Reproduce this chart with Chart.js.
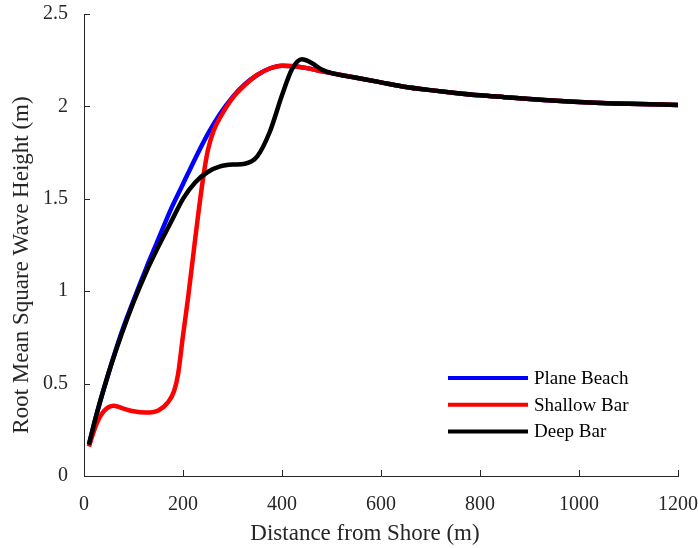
<!DOCTYPE html>
<html>
<head>
<meta charset="utf-8">
<script src="https://cdn.jsdelivr.net/npm/chart.js@4"></script>
<style>
  html, body { margin: 0; padding: 0; background: #fff; }
</style>
</head>
<body>
<canvas id="myChart" width="698" height="548"></canvas>
<script>
/* global Chart */

// tick labels
const xTicks = [0, 200, 400, 600, 800, 1000, 1200];
const yTicks = [0, 0.5, 1, 1.5, 2, 2.5];

// distance from shore (m) and Hrms (m) for each profile
const planeX = [10, 25, 50, 75, 100, 125, 150, 175, 200, 225, 250, 275, 300, 325, 350, 375, 400, 425, 450, 475, 500, 550, 600, 650, 700, 750, 800, 850, 900, 1000, 1100, 1200];
const planeY = [0.17, 0.33, 0.56, 0.77, 0.95, 1.12, 1.28, 1.44, 1.58, 1.72, 1.85, 1.96, 2.05, 2.12, 2.17, 2.205, 2.22, 2.217, 2.207, 2.193, 2.18, 2.155, 2.13, 2.105, 2.088, 2.073, 2.06, 2.05, 2.04, 2.024, 2.014, 2.008];

const shallowX = [10, 25, 40, 60, 80, 100, 125, 150, 170, 182, 190, 200, 210, 220, 230, 240, 250, 262, 275, 300, 325, 350, 375, 400, 425, 450, 475, 500, 550, 600, 650, 700, 750, 800, 850, 900, 1000, 1100, 1200];
const shallowY = [0.16, 0.28, 0.35, 0.38, 0.365, 0.35, 0.343, 0.355, 0.40, 0.46, 0.55, 0.76, 0.96, 1.18, 1.40, 1.60, 1.76, 1.87, 1.94, 2.045, 2.115, 2.17, 2.205, 2.22, 2.217, 2.207, 2.193, 2.18, 2.155, 2.13, 2.105, 2.088, 2.073, 2.06, 2.05, 2.04, 2.024, 2.014, 2.008];

const deepX = [10, 25, 50, 75, 100, 125, 150, 175, 200, 225, 250, 275, 300, 325, 350, 375, 400, 420, 440, 460, 480, 500, 550, 600, 650, 700, 750, 800, 850, 900, 1000, 1100, 1200];
const deepY = [0.17, 0.33, 0.56, 0.76, 0.94, 1.10, 1.24, 1.37, 1.50, 1.59, 1.645, 1.675, 1.685, 1.69, 1.73, 1.86, 2.06, 2.20, 2.255, 2.235, 2.20, 2.18, 2.155, 2.13, 2.105, 2.088, 2.073, 2.06, 2.05, 2.04, 2.024, 2.014, 2.008];

const labels = ["Plane Beach", "Shallow Bar", "Deep Bar"];
const colors = ["#0000ff", "#ff0000", "#000000"];

const serif = "'Liberation Serif', 'Times New Roman', serif";
const textColor = "#262626";

function toPoints(xs, ys) {
  return xs.map(function (x, i) {
    return { x: x, y: ys[i] };
  });
}

// ticks pointing into the plot, like the original figure
const inwardTicks = {
  id: "inwardTicks",
  afterDraw(chart) {
    const ctx = chart.ctx;
    const area = chart.chartArea;
    ctx.save();
    ctx.strokeStyle = textColor;
    ctx.lineWidth = 1;
    ctx.beginPath();
    chart.scales.x.ticks.forEach(function (t) {
      const px = Math.round(chart.scales.x.getPixelForValue(t.value)) + 0.5;
      ctx.moveTo(px, area.bottom);
      ctx.lineTo(px, area.bottom - 6);
    });
    chart.scales.y.ticks.forEach(function (t) {
      const py = Math.round(chart.scales.y.getPixelForValue(t.value)) + 0.5;
      ctx.moveTo(area.left, py);
      ctx.lineTo(area.left + 6, py);
    });
    ctx.stroke();
    ctx.restore();
  },
};

// axis titles and the legend box drawn inside the plot
const annotations = {
  id: "annotations",
  afterDraw(chart) {
    const ctx = chart.ctx;
    const area = chart.chartArea;
    ctx.save();
    ctx.fillStyle = textColor;
    ctx.font = "23px " + serif;
    ctx.textAlign = "center";
    ctx.textBaseline = "middle";
    ctx.fillText("Distance from Shore (m)", (area.left + area.right) / 2 - 16, 534);
    ctx.translate(22, (area.top + area.bottom) / 2 + 20);
    ctx.rotate(-Math.PI / 2);
    ctx.fillText("Root Mean Square Wave Height (m)", 0, 0);
    ctx.restore();

    ctx.save();
    ctx.font = "19px " + serif;
    ctx.textAlign = "left";
    ctx.textBaseline = "middle";
    chart.data.datasets.forEach(function (ds, i) {
      const y = area.bottom - 98 + i * 26.7;
      ctx.strokeStyle = ds.borderColor;
      ctx.lineWidth = 4;
      ctx.beginPath();
      ctx.moveTo(area.right - 230, y);
      ctx.lineTo(area.right - 150, y);
      ctx.stroke();
      ctx.fillStyle = "#000";
      ctx.fillText(ds.label, area.right - 144, y + 1);
    });
    ctx.restore();
  },
};

const ctx = document.getElementById("myChart");
const myChart = new Chart(ctx, {
  type: "line",
  data: {
    datasets: [
      { label: labels[0], data: toPoints(planeX, planeY), borderColor: colors[0], order: 2 },
      { label: labels[1], data: toPoints(shallowX, shallowY), borderColor: colors[1], order: 1 },
      { label: labels[2], data: toPoints(deepX, deepY), borderColor: colors[2], order: 0 },
    ],
  },
  options: {
    responsive: false,
    animation: false,
    layout: { padding: { left: 0, right: 20, top: 14, bottom: 0 } },
    elements: {
      point: { radius: 0 },
      line: { borderWidth: 4.5, cubicInterpolationMode: "monotone", fill: false },
    },
    plugins: {
      legend: { display: false },
      tooltip: { enabled: false },
    },
    scales: {
      x: {
        type: "linear",
        min: 0,
        max: 1200,
        afterBuildTicks(scale) {
          scale.ticks = xTicks.map(function (v) { return { value: v }; });
        },
        afterFit(scale) {
          scale.height = 72;
          scale.paddingLeft = 0;
          scale.paddingRight = 0;
        },
        grid: { display: false },
        border: { display: true, color: textColor, width: 1 },
        ticks: {
          padding: 9,
          maxRotation: 0,
          color: textColor,
          font: { family: serif, size: 20 },
          callback: function (v) { return String(v); },
        },
      },
      y: {
        type: "linear",
        min: 0,
        max: 2.5,
        afterBuildTicks(scale) {
          scale.ticks = yTicks.map(function (v) { return { value: v }; });
        },
        afterFit(scale) {
          scale.width = 84;
          scale.paddingTop = 0;
          scale.paddingBottom = 0;
        },
        grid: { display: false },
        border: { display: true, color: textColor, width: 1 },
        ticks: {
          padding: 8,
          color: textColor,
          font: { family: serif, size: 20 },
          callback: function (v) { return String(v); },
        },
      },
    },
  },
  plugins: [inwardTicks, annotations],
});
</script>
</body>
</html>
